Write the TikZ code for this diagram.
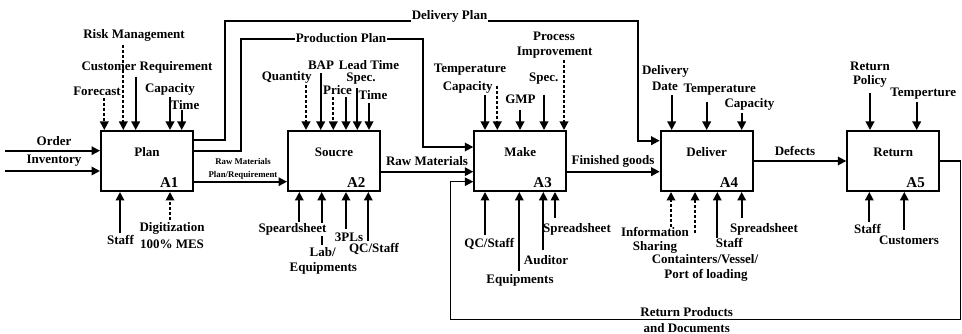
\documentclass[tikz,border=0pt]{standalone}
\usepackage{fontspec}
\setmainfont{Liberation Serif}
\usetikzlibrary{arrows.meta,positioning}

\begin{document}
\begin{tikzpicture}[x=1pt, y=-1pt,
  fn/.style={rectangle, draw, line width=2pt, minimum width=92pt,
             minimum height=60pt, inner sep=0pt},
  fnname/.style={font=\fontsize{13}{13}\selectfont\bfseries},
  fnid/.style={font=\fontsize{15}{15}\selectfont\bfseries, anchor=east},
  lbl/.style={font=\fontsize{13}{13}\selectfont\bfseries, inner sep=0.5pt},
  slbl/.style={font=\fontsize{8.8}{9}\selectfont\bfseries, inner sep=0.5pt},
  conn/.style={-{Triangle[length=8.5pt,width=8.5pt]}, line width=1.8pt},
  dconn/.style={conn, dash pattern=on 3pt off 2pt},
  back/.style={conn, line width=1.2pt}
]
\useasboundingbox (0,0) rectangle (962,334);

% activity boxes
\node[fn] (plan)    at (147,161)   {};
\node[fn] (source)  at (334,161)   {};
\node[fn] (make)    at (520.3,161) {};
\node[fn] (deliver) at (706.7,161) {};
\node[fn] (ret)     at (893.3,161) {};

\node[fnname] (plan-t)    at ([yshift=9pt]plan.center)    {Plan};
\node[fnname] (source-t)  at ([yshift=9pt]source.center)  {Soucre};
\node[fnname] (make-t)    at ([yshift=9pt]make.center)    {Make};
\node[fnname] (deliver-t) at ([yshift=9pt]deliver.center) {Deliver};
\node[fnname] (ret-t)     at ([yshift=9pt]ret.center)     {Return};

\node[fnid] (a1) at ([xshift=-12pt,yshift=9pt]plan.south east)    {A1};
\node[fnid] (a2) at ([xshift=-12pt,yshift=9pt]source.south east)  {A2};
\node[fnid] (a3) at ([xshift=-12pt,yshift=9pt]make.south east)    {A3};
\node[fnid] (a4) at ([xshift=-12pt,yshift=9pt]deliver.south east) {A4};
\node[fnid] (a5) at ([xshift=-12pt,yshift=9pt]ret.south east)     {A5};

% Plan
\coordinate (order) at (5,150.7);
\coordinate (inv)   at (5,171);
\draw[conn] (order) -- (order -| plan.west);
\draw[conn] (inv) -- (inv -| plan.west);
\node[lbl] (order-l) at (54,140.7) {Order};
\node[lbl] (inv-l)   at (54,161)   {Inventory};

\coordinate (p-fc)   at (104.3,98);
\coordinate (p-risk) at (123.3,45);
\coordinate (p-cust) at (135.7,77);
\coordinate (p-cap)  at (170,97);
\coordinate (p-time) at (181.7,110);
\draw[dconn] (p-fc) -- (p-fc |- plan.north);
\draw[dconn] (p-risk) -- (p-risk |- plan.north);
\draw[conn] (p-cust) -- (p-cust |- plan.north);
\draw[conn] (p-cap) -- (p-cap |- plan.north);
\draw[conn] (p-time) -- (p-time |- plan.north);
\node[lbl] (p-fc-l)   at (97,91)   {Forecast};
\node[lbl] (p-risk-l) at (134,35.5) {Risk Management};
\node[lbl] (p-cust-l) at (147,67.3) {Customer Requirement};
\node[lbl] (p-cap-l)  at (170,89.5) {Capacity};
\node[lbl] (p-time-l) at (185,105) {Time};

\coordinate (p-staff) at (120,233);
\coordinate (p-mes)   at (170,220);
\draw[conn] (p-staff) -- (p-staff |- plan.south);
\draw[dconn] (p-mes) -- (p-mes |- plan.south);
\node[lbl] (p-staff-l) at (120.5,239.5) {Staff};
\node[lbl] (p-mes-l1)  at (172,228)   {Digitization};
\node[lbl] (p-mes-l2)  at (172,244)   {100\% MES};

% Plan outputs
\draw[conn] (plan.east |- 0,140) -- (225,140) -- (225,21) -- (638,21)
  -- (638,140.7) -- (deliver.west |- 0,140.7);
\node[lbl, fill=white] (dplan) at (449.5,16) {Delivery Plan};
\draw[conn] (plan.east |- 0,150.7) -- (240.7,150.7) -- (240.7,39) -- (423,39)
  -- (423,147) -- (make.west |- 0,147);
\node[lbl, fill=white] (pplan) at (341,37.7) {Production Plan};
\draw[conn] (plan.east |- 0,181.7) -- (source.west |- 0,181.7);
\node[slbl] (rmp-l1) at (243,161) {Raw Materials};
\node[slbl] (rmp-l2) at (243,175) {Plan/Requirement};

% Soucre
\coordinate (s-qty)   at (306,85);
\coordinate (s-bap)   at (320.7,73);
\coordinate (s-price) at (333.3,97);
\coordinate (s-spec)  at (346,97);
\coordinate (s-lead)  at (357.3,88);
\coordinate (s-time)  at (369,103);
\draw[dconn] (s-qty) -- (s-qty |- source.north);
\draw[conn] (s-bap) -- (s-bap |- source.north);
\draw[dconn] (s-price) -- (s-price |- source.north);
\draw[conn] (s-spec) -- (s-spec |- source.north);
\draw[conn] (s-lead) -- (s-lead |- source.north);
\draw[conn] (s-time) -- (s-time |- source.north);
\node[lbl] (s-qty-l)   at (286.7,77) {Quantity};
\node[lbl] (s-bap-l)   at (321,65)   {BAP};
\node[lbl] (s-lead-l)  at (369,65)   {Lead Time};
\node[lbl] (s-spec-l)  at (361,78.5) {Spec.};
\node[lbl] (s-price-l) at (337.5,90) {Price};
\node[lbl] (s-time-l)  at (373,95)   {Time};

\coordinate (s-sheet) at (299.3,221.7);
\coordinate (s-lab)   at (321.7,245);
\coordinate (s-3pl)   at (346,229);
\coordinate (s-qc)    at (368.3,241);
\draw[conn] (s-sheet) -- (s-sheet |- source.south);
\draw[conn] (s-lab) -- (s-lab |- source.south);
\draw[conn] (s-3pl) -- (s-3pl |- source.south);
\draw[conn] (s-qc) -- (s-qc |- source.south);
\node[lbl, fill=white] (s-sheet-l) at (292.5,229.3) {Speardsheet};
\node[lbl] (s-lab-l1) at (322.7,251.7) {Lab/};
\node[lbl] (s-lab-l2) at (323.3,268)   {Equipments};
\node[lbl] (s-3pl-l)  at (349,237)     {3PLs};
\node[lbl] (s-qc-l)   at (374,249)     {QC/Staff};

\draw[conn] (source.east |- 0,171.7) -- (make.west |- 0,171.7);
\node[lbl] (rm-l) at (427,161) {Raw Materials};

% Make
\coordinate (m-temp) at (485,95);
\coordinate (m-cap)  at (497.3,86);
\coordinate (m-gmp)  at (520,110);
\coordinate (m-spec) at (544,95);
\coordinate (m-proc) at (564,60);
\draw[conn] (m-temp) -- (m-temp |- make.north);
\draw[dconn] (m-cap) -- (m-cap |- make.north);
\draw[conn] (m-gmp) -- (m-gmp |- make.north);
\draw[conn] (m-spec) -- (m-spec |- make.north);
\draw[dconn] (m-proc) -- (m-proc |- make.north);
\node[lbl] (m-temp-l)  at (470,70)     {Temperature};
\node[lbl] (m-cap-l)   at (467.7,87.7) {Capacity};
\node[lbl] (m-gmp-l)   at (520.5,99.3) {GMP};
\node[lbl] (m-spec-l)  at (543.8,79)   {Spec.};
\node[lbl] (m-proc-l1) at (554,36.7)   {Process};
\node[lbl] (m-proc-l2) at (554.7,52.7) {Improvement};

\coordinate (m-qc)    at (485,235);
\coordinate (m-equip) at (519.3,270.7);
\coordinate (m-aud)   at (543.3,250);
\coordinate (m-sheet) at (555,218);
\draw[conn] (m-qc) -- (m-qc |- make.south);
\draw[conn] (m-equip) -- (m-equip |- make.south);
\draw[conn] (m-aud) -- (m-aud |- make.south);
\draw[conn] (m-sheet) -- (m-sheet |- make.south);
\node[lbl] (m-qc-l)    at (489.3,243.5) {QC/Staff};
\node[lbl] (m-equip-l) at (520,280.5)   {Equipments};
\node[lbl] (m-aud-l)   at (546,260)     {Auditor};
\node[lbl] (m-sheet-l) at (577,229)     {Spreadsheet};

\draw[conn] (make.east |- 0,171.7) -- (deliver.west |- 0,171.7);
\node[lbl] (fg-l) at (613,161) {Finished goods};

% Deliver
\coordinate (d-date) at (671.7,95);
\coordinate (d-temp) at (706.7,101.7);
\coordinate (d-cap)  at (741.7,113);
\draw[conn] (d-date) -- (d-date |- deliver.north);
\draw[conn] (d-temp) -- (d-temp |- deliver.north);
\draw[conn] (d-cap) -- (d-cap |- deliver.north);
\node[lbl] (d-date-l1) at (665.5,71)   {Delivery};
\node[lbl] (d-date-l2) at (665,86)     {Date};
\node[lbl] (d-temp-l)  at (719.7,89.3) {Temperature};
\node[lbl] (d-cap-l)   at (749.5,104)  {Capacity};

\coordinate (d-info)  at (671,226.7);
\coordinate (d-share) at (695,233);
\coordinate (d-staff) at (717.3,238);
\coordinate (d-sheet) at (741.7,218);
\draw[dconn] (d-info) -- (d-info |- deliver.south);
\draw[dconn] (d-share) -- (d-share |- deliver.south);
\draw[conn] (d-staff) -- (d-staff |- deliver.south);
\draw[conn] (d-sheet) -- (d-sheet |- deliver.south);
\node[lbl] (d-info-l1)  at (655,231.5)   {Information};
\node[lbl] (d-info-l2)  at (655,247.5)   {Sharing};
\node[lbl] (d-staff-l)  at (729.3,243.3) {Staff};
\node[lbl] (d-sheet-l)  at (764,229.3)   {Spreadsheet};
\node[lbl] (d-port-l1)  at (705,259)     {Containters/Vessel/};
\node[lbl] (d-port-l2)  at (706,275.5)   {Port of loading};

\draw[conn] (deliver.east) -- (ret.west);
\node[lbl] (def-l) at (795,151) {Defects};

% Return
\coordinate (r-pol)  at (870,93.3);
\coordinate (r-temp) at (916.7,101.7);
\draw[conn] (r-pol) -- (r-pol |- ret.north);
\draw[conn] (r-temp) -- (r-temp |- ret.north);
\node[lbl] (r-pol-l1) at (870,66.7)   {Return};
\node[lbl] (r-pol-l2) at (870,81.7)   {Policy};
\node[lbl] (r-temp-l) at (923.3,93.3) {Temperture};

\coordinate (r-staff) at (869.3,222);
\coordinate (r-cust)  at (904.3,230);
\draw[conn] (r-staff) -- (r-staff |- ret.south);
\draw[conn] (r-cust) -- (r-cust |- ret.south);
\node[lbl] (r-staff-l) at (867.5,229.3) {Staff};
\node[lbl] (r-cust-l)  at (909,240)     {Customers};

% returns back to Make
\draw[back] (ret.east) -- (960.5,161) -- (960.5,319.3) -- (450.7,319.3)
  -- (450.7,181.7) -- (make.west |- 0,181.7);
\node[lbl] (back-l1) at (686.7,311.7) {Return Products};
\node[lbl] (back-l2) at (686.7,328)   {and Documents};
\end{tikzpicture}
\end{document}
